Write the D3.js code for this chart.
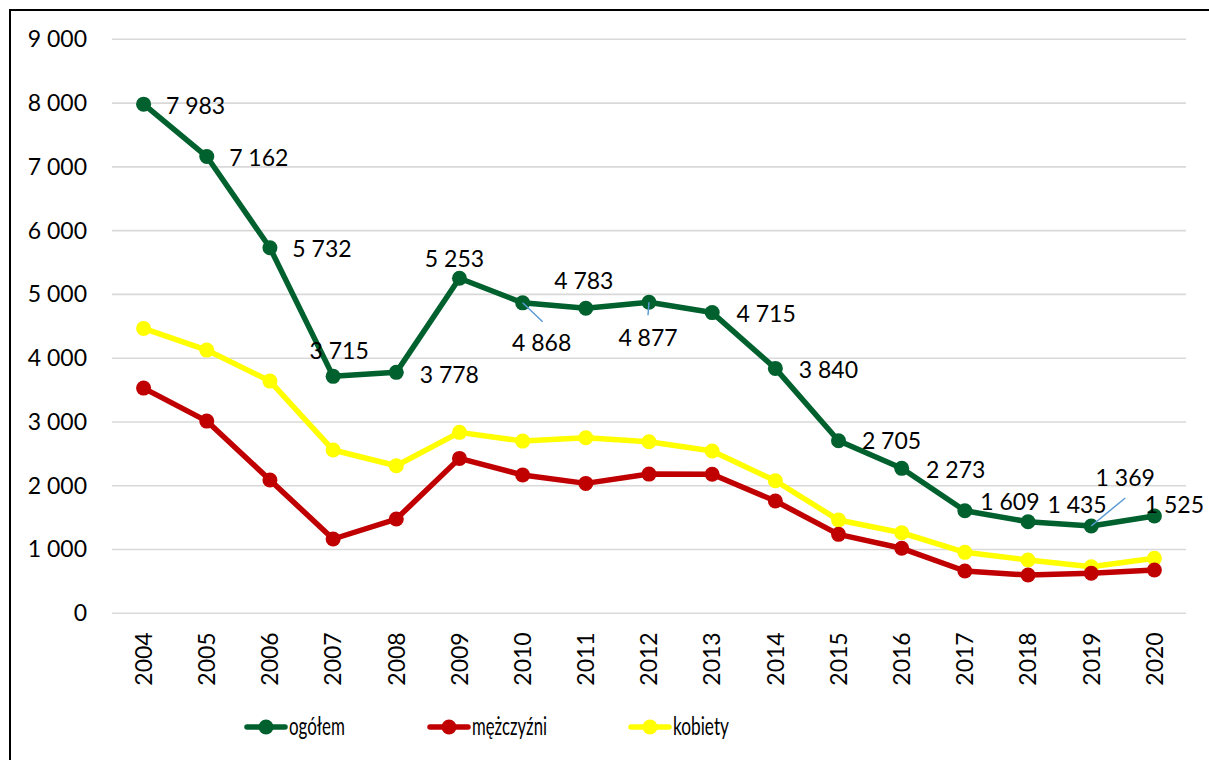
<!DOCTYPE html>
<html><head><meta charset="utf-8">
<script src="https://cdn.jsdelivr.net/npm/d3@7"></script>
<style>body{margin:0;background:#fff}text{font-family:Lato,"Open Sans",sans-serif;fill:#000}</style>
</head><body>
<svg id="c" width="1209" height="760"></svg>
<script>
// ---- data ----
const years = ["2004","2005","2006","2007","2008","2009","2010","2011","2012","2013","2014","2015","2016","2017","2018","2019","2020"];
const ogolem    = [7983,7162,5732,3715,3778,5253,4868,4783,4877,4715,3840,2705,2273,1609,1435,1369,1525];
const mezczyzni = [3531,3014,2090,1165,1478,2429,2168,2037,2183,2181,1760,1238,1019,663,600,627,679];
const kobiety   = [4467,4127,3641,2560,2313,2837,2700,2752,2690,2544,2078,1462,1263,956,835,730,862];
const yTicks = [0,1000,2000,3000,4000,5000,6000,7000,8000,9000];
const seriesNames = ["ogółem","mężczyźni","kobiety"];

// ---- layout / style (not data) ----
const colors = ["#00612E","#C00000","#FFFF00"];
// label text-centre offsets relative to point, and optional leader end
const labelOffsets = [[52,2],[52,1],[52,1],[6,-26],[53,2],[-5,-20],[19,40],[-2,-28],[-1,35],[54,1],[53,1],[53,0],[54,1],[45,-9],[49,-17],[34,-48],[20,-11]];
const leaders = {6:[20,19],8:[-1,13],15:[34,-28]};
const legX = [247,430,631];
const legTextW = [56,75,56];

const svg = d3.select("#c");
const x = d3.scaleBand().domain(years).range([112,1186]).padding(0);
const cx = d => x(d) + x.bandwidth()/2;
const y = d3.scaleLinear().domain([0,9000]).range([613.3,39.3]);
const loc = d3.formatLocale({decimal:",",thousands:" ",grouping:[3],currency:["","zł"]});
const fmt = loc.format(",");

// frame
svg.append("path").attr("d","M10,800V10H1230").attr("fill","none").attr("stroke","#000").attr("stroke-width",2);

// gridlines
svg.append("g").selectAll("line").data(yTicks).join("line")
  .attr("x1",112).attr("x2",1186).attr("y1",d=>y(d)).attr("y2",d=>y(d))
  .attr("stroke","#D9D9D9").attr("stroke-width",1.6);

// y axis
const ya = svg.append("g").attr("transform","translate(112,0)")
  .call(d3.axisLeft(y).tickValues(yTicks).tickSize(0).tickPadding(25).tickFormat(fmt));
ya.select(".domain").remove();
ya.selectAll("text").style("font-size","23px").style("font-family","Lato,sans-serif");

// x axis
const xa = svg.append("g").attr("transform","translate(0,613.3)")
  .call(d3.axisBottom(x).tickSize(0));
xa.select(".domain").remove();
xa.selectAll("text").attr("transform","rotate(-90)").attr("x",-19).attr("y",0).attr("dy","0.36em")
  .attr("text-anchor","end").style("font-size","23px").style("font-family","Lato,sans-serif");

// series
const series = [ogolem, mezczyzni, kobiety];
const line = d3.line().x((d,i)=>cx(years[i])).y(d=>y(d));
[2,1,0].forEach(si=>{
  const g = svg.append("g");
  g.append("path").datum(series[si]).attr("d",line).attr("fill","none")
    .attr("stroke",colors[si]).attr("stroke-width",5.5).attr("stroke-linejoin","round");
  g.selectAll("circle").data(series[si]).join("circle")
    .attr("cx",(d,i)=>cx(years[i])).attr("cy",d=>y(d)).attr("r",7.5).attr("fill",colors[si]);
});

// leaders
const lg = svg.append("g");
Object.keys(leaders).forEach(k=>{
  const i=+k, px=cx(years[i]), py=y(ogolem[i]);
  lg.append("line").attr("x1",px).attr("y1",py).attr("x2",px+leaders[k][0]).attr("y2",py+leaders[k][1])
    .attr("stroke","#5B9BD5").attr("stroke-width",1.5);
});

// data labels
svg.append("g").selectAll("text").data(ogolem).join("text")
  .attr("x",(d,i)=>cx(years[i])+labelOffsets[i][0])
  .attr("y",(d,i)=>y(d)+labelOffsets[i][1])
  .attr("dy","0.36em").attr("text-anchor","middle")
  .style("font-size","23px").text(d=>fmt(d));

// legend
const leg = svg.append("g");
seriesNames.forEach((n,i)=>{
  const g = leg.append("g").attr("transform",`translate(${legX[i]},727)`);
  g.append("line").attr("x1",0).attr("x2",38).attr("stroke",colors[i]).attr("stroke-width",5.5).attr("stroke-linecap","round");
  g.append("circle").attr("cx",19).attr("r",7.5).attr("fill",colors[i]);
  g.append("text").attr("x",42).attr("dy","0.32em").style("font-size","25px")
    .attr("textLength",legTextW[i]).attr("lengthAdjust","spacingAndGlyphs").text(n);
});
</script>
</body></html>
